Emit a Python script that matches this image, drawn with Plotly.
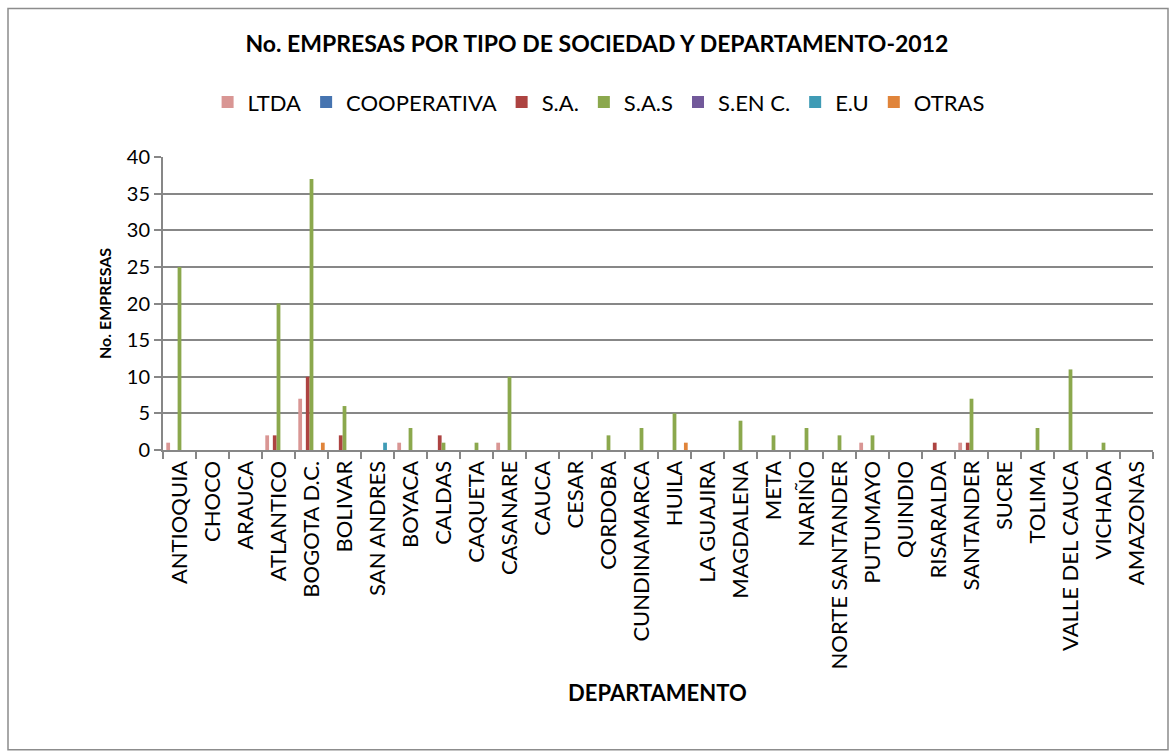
import plotly.graph_objects as go

departamentos = [
    "ANTIOQUIA", "CHOCO", "ARAUCA", "ATLANTICO", "BOGOTA D.C.", "BOLIVAR",
    "SAN ANDRES", "BOYACA", "CALDAS", "CAQUETA", "CASANARE", "CAUCA", "CESAR",
    "CORDOBA", "CUNDINAMARCA", "HUILA", "LA GUAJIRA", "MAGDALENA", "META",
    "NARIÑO", "NORTE SANTANDER", "PUTUMAYO", "QUINDIO", "RISARALDA",
    "SANTANDER", "SUCRE", "TOLIMA", "VALLE DEL CAUCA", "VICHADA", "AMAZONAS",
]

ltda =        [1, 0, 0, 2, 7, 0, 0, 1, 0, 0, 1, 0, 0, 0, 0, 0, 0, 0, 0, 0, 0, 1, 0, 0, 1, 0, 0, 0, 0, 0]
cooperativa = [0, 0, 0, 0, 0, 0, 0, 0, 0, 0, 0, 0, 0, 0, 0, 0, 0, 0, 0, 0, 0, 0, 0, 0, 0, 0, 0, 0, 0, 0]
sa =          [0, 0, 0, 2, 10, 2, 0, 0, 2, 0, 0, 0, 0, 0, 0, 0, 0, 0, 0, 0, 0, 0, 0, 1, 1, 0, 0, 0, 0, 0]
sas =         [25, 0, 0, 20, 37, 6, 0, 3, 1, 1, 10, 0, 0, 2, 3, 5, 0, 4, 2, 3, 2, 2, 0, 0, 7, 0, 3, 11, 1, 0]
s_en_c =      [0, 0, 0, 0, 0, 0, 0, 0, 0, 0, 0, 0, 0, 0, 0, 0, 0, 0, 0, 0, 0, 0, 0, 0, 0, 0, 0, 0, 0, 0]
eu =          [0, 0, 0, 0, 0, 0, 1, 0, 0, 0, 0, 0, 0, 0, 0, 0, 0, 0, 0, 0, 0, 0, 0, 0, 0, 0, 0, 0, 0, 0]
otras =       [0, 0, 0, 0, 1, 0, 0, 0, 0, 0, 0, 0, 0, 0, 0, 1, 0, 0, 0, 0, 0, 0, 0, 0, 0, 0, 0, 0, 0, 0]

series = [
    ("LTDA", ltda, "#D99694"),
    ("COOPERATIVA", cooperativa, "#4674B0"),
    ("S.A.", sa, "#AD4341"),
    ("S.A.S", sas, "#8BA84D"),
    ("S.EN C.", s_en_c, "#72599A"),
    ("E.U", eu, "#3F9BB5"),
    ("OTRAS", otras, "#E0843A"),
]

FONT = "Lato, Open Sans, sans-serif"
GRID = "#878787"

fig = go.Figure()
for name, values, color in series:
    fig.add_trace(go.Bar(
        x=departamentos, y=values, name=name,
        marker=dict(color=color, line=dict(width=0)),
    ))

fig.update_layout(
    width=1175, height=756,
    margin=dict(l=163, r=22, t=157, b=306),
    paper_bgcolor="white", plot_bgcolor="white",
    barmode="group", bargap=0.2, bargroupgap=0,
    font=dict(family=FONT, color="black"),
    title=dict(
        text="<b>No. EMPRESAS POR TIPO DE SOCIEDAD Y DEPARTAMENTO-2012</b>",
        x=0.508, xanchor="center", y=1 - 44 / 756, yanchor="middle",
        font=dict(size=23, family=FONT, color="black"),
    ),
    legend=dict(
        orientation="h", x=0.44, xanchor="center", y=1.187, yanchor="middle",
        font=dict(size=22, family=FONT), traceorder="normal",
        itemwidth=30, bgcolor="rgba(0,0,0,0)",
    ),
    showlegend=True,
)

fig.update_xaxes(
    type="category", tickangle=-90, tickfont=dict(size=22, family=FONT),
    showline=True, linecolor=GRID, linewidth=2,
    ticks="outside", tickson="boundaries", ticklen=7, tickcolor=GRID, tickwidth=2,
    showgrid=False, zeroline=False,
)
fig.update_yaxes(
    range=[0, 40], dtick=5, tickfont=dict(size=20, family=FONT),
    showgrid=True, gridcolor=GRID, gridwidth=2,
    showline=True, linecolor=GRID, linewidth=2,
    ticks="outside", ticklen=7, tickcolor=GRID, tickwidth=2,
    zeroline=False,
)

# axis titles
fig.add_annotation(
    text="<b>No. EMPRESAS</b>", xref="paper", yref="paper",
    x=(93 - 163) / 990, y=0.5, textangle=-90, showarrow=False,
    font=dict(size=16, family=FONT, color="black"),
)
fig.add_annotation(
    text="<b>DEPARTAMENTO</b>", xref="paper", yref="paper",
    x=0.499, y=(450 - 708) / 293.3, showarrow=False,
    font=dict(size=22, family=FONT, color="black"),
)

# chart frame
fig.add_shape(
    type="rect", xref="paper", yref="paper",
    x0=(8 - 163) / 990, x1=(1168 - 163) / 990,
    y0=(450 - 750) / 293.3, y1=(450 - 8) / 293.3,
    line=dict(color="#8C8C8C", width=1.5), fillcolor="rgba(0,0,0,0)", layer="below",
)

fig.write_html("out.html")
